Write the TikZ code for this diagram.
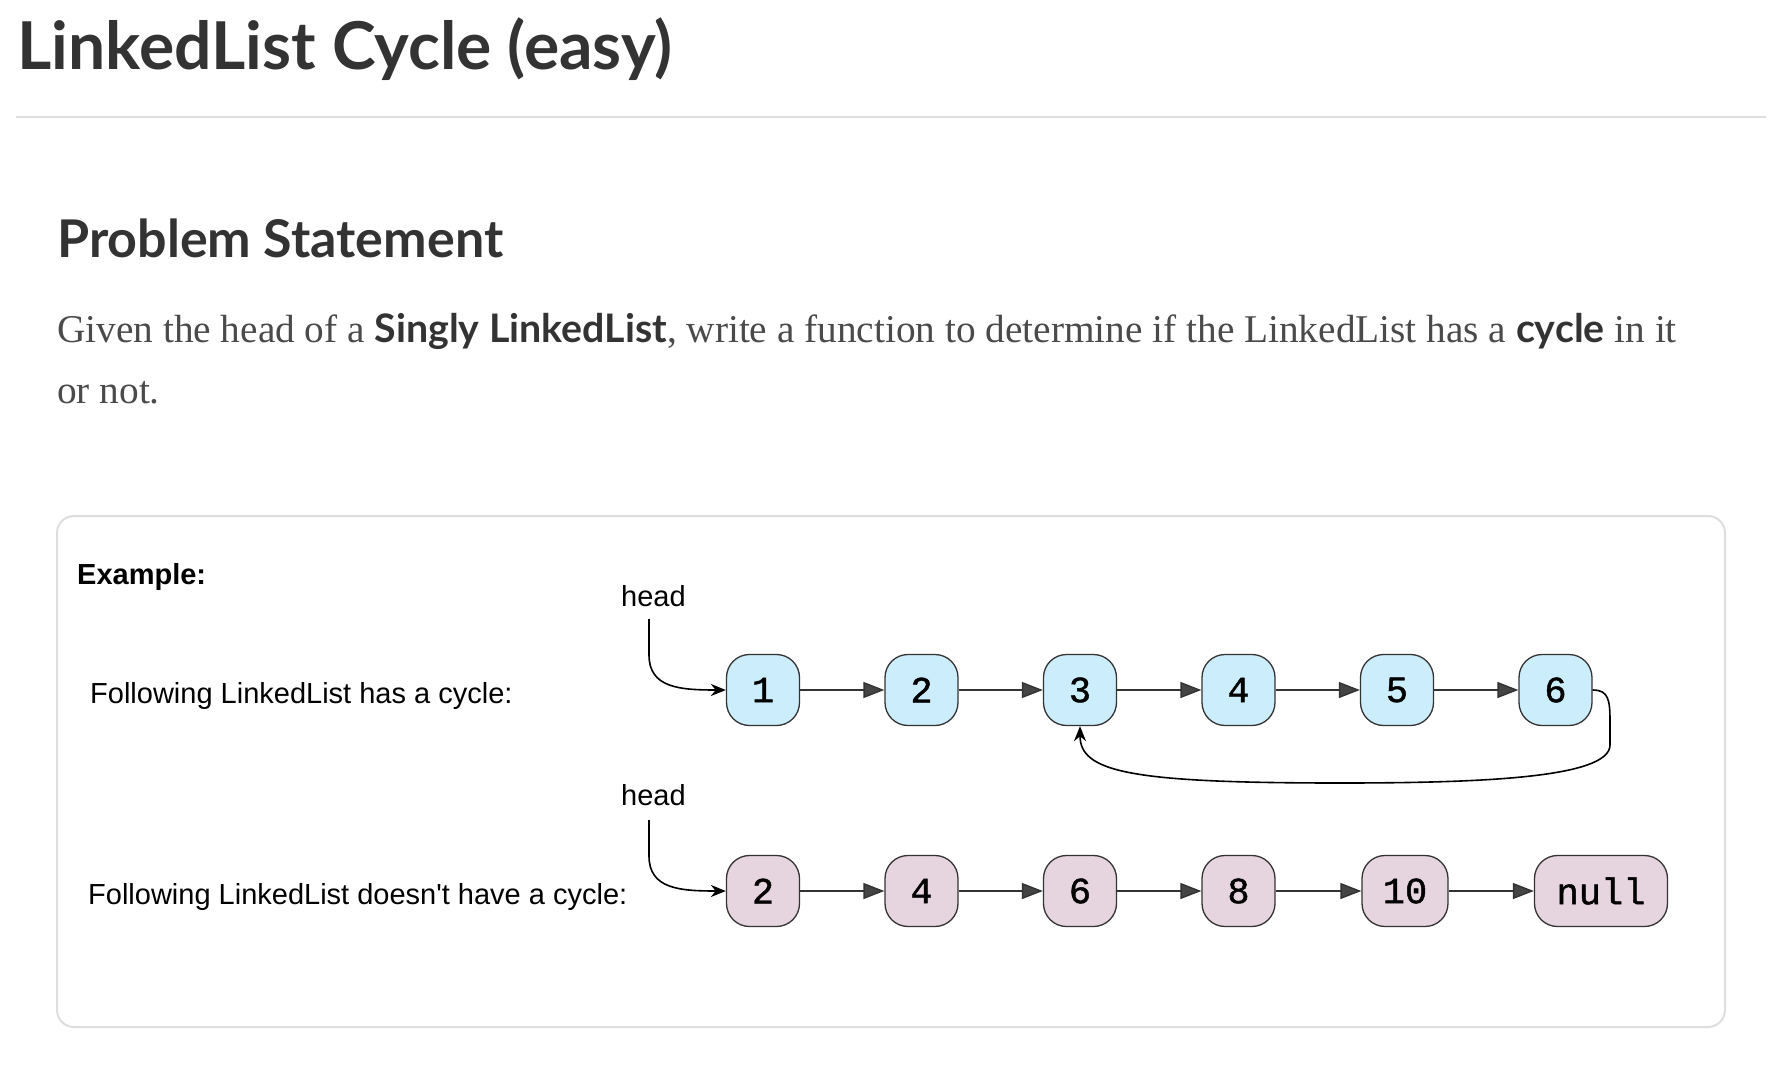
\documentclass[tikz,border=0pt]{standalone}
\usepackage{fontspec}
\setmainfont{Liberation Serif}
\newfontfamily\headfont{Lato}
\newfontfamily\diafont{Liberation Sans}
\newfontfamily\nodefont[FakeBold=1.2]{Liberation Mono}
\usetikzlibrary{arrows.meta}
\definecolor{ink}{HTML}{333333}
\definecolor{para}{HTML}{4A4A4A}
\definecolor{rulegray}{HTML}{DDDDDD}
\definecolor{boxgray}{HTML}{DEDEDE}
\definecolor{blueF}{HTML}{CCEDFC}
\definecolor{pinkF}{HTML}{E6D5DE}
\definecolor{tipgray}{HTML}{444444}
\tikzset{
  llnode/.style={draw=ink, line width=1.3pt, rounded corners=23pt, minimum width=73pt, minimum height=71pt, inner sep=0pt, font=\nodefont\fontsize{37}{37}\selectfont},
  cyc/.style={llnode, fill=blueF},
  nocyc/.style={llnode, fill=pinkF},
  link/.style={draw=ink, line width=1.4pt, -{Triangle[length=21pt,width=16pt,fill=tipgray]}},
  headarrow/.style={draw=black, line width=1.6pt, -{Stealth[length=15pt,width=12pt]}},
  diatext/.style={font=\diafont\fontsize{29}{33}\selectfont, inner sep=0pt, anchor=base west},
}
\begin{document}
\begin{tikzpicture}[x=1pt,y=-1pt]
\useasboundingbox (0,0) rectangle (1778,1070);
\fill[white] (0,0) rectangle (1778,1070);
% header
\node[anchor=base west, inner sep=0pt, text=ink, font=\headfont\bfseries\fontsize{66}{70}\selectfont] (title) at (17,70) {LinkedList Cycle (easy)};
\draw[rulegray, line width=2pt] (16,117) -- (1766,117);
\node[anchor=base west, inner sep=0pt, text=ink, font=\headfont\bfseries\fontsize{52}{56}\selectfont] (ps) at (57,257) {Problem Statement};
\node[anchor=base west, inner sep=0pt, text=para, font=\fontsize{39.3}{44}\selectfont] (p1) at (57,342) {Given the head of a {\headfont\bfseries\color{ink}Singly LinkedList}, write a function to determine if the LinkedList has a {\headfont\bfseries\color{ink}cycle} in it};
\node[anchor=base west, inner sep=0pt, text=para, font=\fontsize{39.3}{44}\selectfont] (p2) at (57,403) {or not.};
% example box
\draw[boxgray, line width=2pt, rounded corners=17pt] (57,516) rectangle (1725,1027);
\node[diatext, font=\diafont\bfseries\fontsize{29}{33}\selectfont] (ex) at (77,584) {Example:};
\node[diatext] (lab1) at (90,703) {Following LinkedList has a cycle:};
\node[diatext] (lab2) at (88,904) {Following LinkedList doesn't have a cycle:};
\node[diatext] (head1) at (621,606) {head};
\node[diatext] (head2) at (621,805) {head};
% row 1
\node[cyc] (a1) at (763,690) {1};
\node[cyc] (a2) at (921.5,690) {2};
\node[cyc] (a3) at (1080,690) {3};
\node[cyc] (a4) at (1238.5,690) {4};
\node[cyc] (a5) at (1397,690) {5};
\node[cyc] (a6) at (1555.5,690) {6};
\foreach \i/\j in {a1/a2,a2/a3,a3/a4,a4/a5,a5/a6} \draw[link] (\i) -- (\j);
% row 2
\node[nocyc] (b1) at (763,891) {2};
\node[nocyc] (b2) at (921.5,891) {4};
\node[nocyc] (b3) at (1080,891) {6};
\node[nocyc] (b4) at (1238.5,891) {8};
\node[nocyc, minimum width=86pt] (b5) at (1405,891) {10};
\node[nocyc, minimum width=133pt] (b6) at (1601,891) {null};
\foreach \i/\j in {b1/b2,b2/b3,b3/b4,b4/b5,b5/b6} \draw[link] (\i) -- (\j);
% head arrows
\coordinate (h1s) at (649,619);
\coordinate (h2s) at (649,820);
\draw[headarrow] (h1s) -- (649,655) .. controls (649,688) and (680,690) .. (a1.west);
\draw[headarrow] (h2s) -- (649,856) .. controls (649,889) and (680,891) .. (b1.west);
% cycle
\coordinate (cr) at (1610,745);
\draw[headarrow] (a6.east) .. controls +(16,0) and (1610,700) .. (1610,722) -- (cr) .. controls (1610,778) and (1480,783) .. (1340,783) .. controls (1130,783) and (1080,772) .. (a3.south);
\end{tikzpicture}
\end{document}
